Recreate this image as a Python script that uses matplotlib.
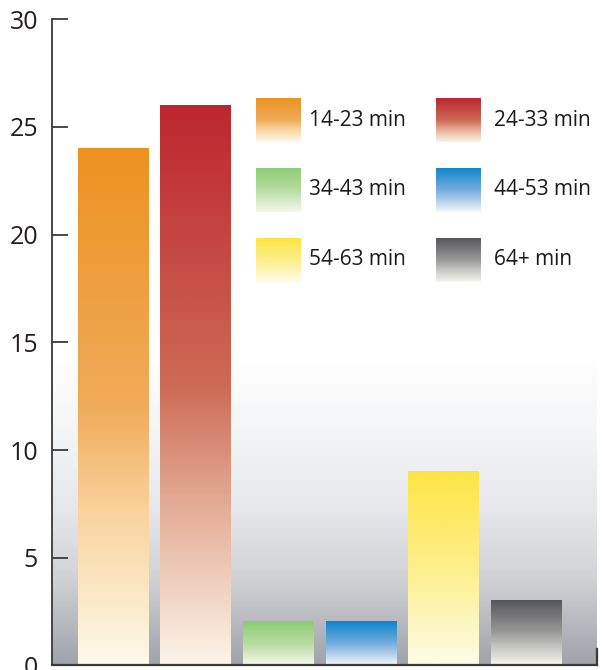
import numpy as np
import matplotlib
matplotlib.use("Agg")
import matplotlib.pyplot as plt
from matplotlib.colors import LinearSegmentedColormap

# ---- data ----
categories = ["14-23 min", "24-33 min", "34-43 min", "44-53 min", "54-63 min", "64+ min"]
values = [24, 26, 2, 2, 9, 3]
yticks = [0, 5, 10, 15, 20, 25, 30]

# colour stops per series: (bottom, 30%, 50%, top)
stops = [
    ["#fdfaea", "#f9d29c", "#f0ab5a", "#ed9221"],
    ["#fcf4e8", "#e2a891", "#cd6a55", "#bd2630"],
    ["#f4f8ea", "#cfe7be", "#b6dc9f", "#8ccb74"],
    ["#f4f7fa", "#a5c8e8", "#74abdc", "#0a86cc"],
    ["#fdfce8", "#fdf4b0", "#fdef8c", "#fde546"],
    ["#f6f6ee", "#c2c2bf", "#9a9a99", "#57575a"],
]
positions = [0.0, 0.3, 0.5, 1.0]

def cmap_for(cols):
    return LinearSegmentedColormap.from_list("g", list(zip(positions, cols)))

W, H = 602, 670
fig = plt.figure(figsize=(W / 100, H / 100), dpi=100)
ax_l, ax_r, ax_b, ax_t = 52, 597, 665.4, 19.3
ax = fig.add_axes([ax_l / W, (H - ax_b) / H, (ax_r - ax_l) / W, (ax_b - ax_t) / H])

xlo, xhi = -0.7385, 5.86
ax.set_xlim(xlo, xhi)
ax.set_ylim(0, 30)

# background gradient
bg_cmap = LinearSegmentedColormap.from_list(
    "bg",
    [(0.0, "#a0a3aa"), (3.96 / 30, "#d0d2d6"), (7.2 / 30, "#e6e7ea"),
     (10.5 / 30, "#f3f4f5"), (14.2 / 30, "#ffffff"), (1.0, "#ffffff")])
grad = np.linspace(0, 1, 600).reshape(-1, 1)
ax.imshow(grad, extent=[xlo, xhi, 0, 30], origin="lower", aspect="auto",
          cmap=bg_cmap, zorder=0, interpolation="bilinear")

# bars
bw = 0.85
x = np.arange(len(values))
bars = ax.bar(x, values, width=bw, color="none", zorder=2)
for rect, cols in zip(bars, stops):
    x0 = rect.get_x()
    h = rect.get_height()
    ax.imshow(grad, extent=[x0, x0 + rect.get_width(), 0, h], origin="lower",
              aspect="auto", cmap=cmap_for(cols), zorder=2, interpolation="bilinear")
ax.set_xlim(xlo, xhi)
ax.set_ylim(0, 30)

# axes styling
for s in ["top", "right"]:
    ax.spines[s].set_visible(False)
ax.spines["left"].set_color("#3a3a3a")
ax.spines["left"].set_linewidth(1.3)
ax.spines["bottom"].set_color("#3a3a3a")
ax.spines["bottom"].set_linewidth(1.6)
ax.spines["left"].set_zorder(5)
ax.spines["bottom"].set_zorder(5)
ax.set_xticks([])
ax.set_yticks(yticks)
ax.tick_params(axis="y", direction="in", length=11.5, width=1.3, color="#3a3a3a",
               pad=10, labelsize=18, labelcolor="#231f20")
for lbl in ax.get_yticklabels():
    lbl.set_family("Open Sans")
# small right-end tick on bottom axis
ax.plot([1, 1], [0, 0.026], transform=ax.transAxes, color="#3a3a3a", lw=1.6,
        clip_on=False, zorder=6)

# legend swatches
sw_w, sw_h = 44 / (ax_r - ax_l), 44 / (ax_b - ax_t)
col_x = [0.374, 0.7046]
row_y = [0.810, 0.7017, 0.5935]
txt_x = [0.4716, 0.811]
txt_y = [0.844, 0.736, 0.628]
for i, (lab, cols) in enumerate(zip(categories, stops)):
    r, c = divmod(i, 2)
    ia = ax.inset_axes([col_x[c], row_y[r], sw_w, sw_h])
    ia.imshow(grad, origin="lower", aspect="auto", cmap=cmap_for(cols),
              extent=[0, 1, 0, 1], interpolation="bilinear")
    ia.set_axis_off()
    ax.text(txt_x[c], txt_y[r], lab, transform=ax.transAxes, ha="left", va="center",
            fontsize=15, family="Open Sans", color="#1a1a1a", zorder=6)

fig.savefig("out.png", dpi=100)
